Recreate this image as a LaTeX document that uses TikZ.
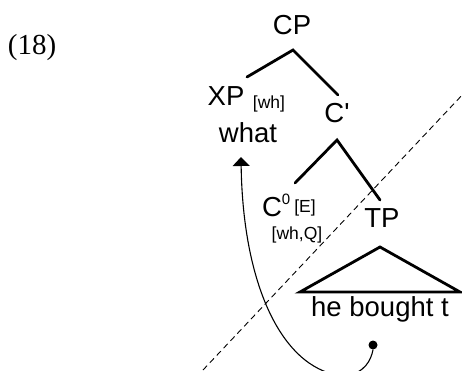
\documentclass[tikz,border=0pt]{standalone}
\usepackage{fontspec}
\setmainfont{Liberation Serif}
\newfontfamily\sansf{Liberation Sans}
\usetikzlibrary{arrows.meta}
\begin{document}
\begin{tikzpicture}[x=1pt,y=-1pt,
  lab/.style={font=\sansf\fontsize{27.5}{30}\selectfont, inner sep=0pt},
  feat/.style={font=\sansf\fontsize{17.5}{19}\selectfont, inner sep=0pt},
  supf/.style={font=\sansf\fontsize{15}{17}\selectfont, inner sep=0pt},
  branch/.style={line width=2.8pt, line cap=round},
  move/.style={line width=1.1pt, -{Triangle[width=17pt,length=9pt]}},
  cutline/.style={line width=0.9pt, dash pattern=on 6pt off 4pt},
]
\useasboundingbox (0,0) rectangle (462,370);
% example number
\node[font=\fontsize{29}{32}\selectfont, inner sep=0pt] (ex) at (32,48) {(18)};
% tree labels
\node[lab] (CP) at (292,25) {CP};
\node[lab] (XP) at (226,96) {XP};
\node[feat] (XPf) at (269,104) {[wh]};
\node[lab] (what) at (248,133) {what};
\node[lab] (Cbar) at (337,113) {C'};
\node[lab] (C0) at (272,207) {C};
\node[supf] (C0s) at (286,199) {0};
\node[feat] (C0f) at (305,208) {[E]};
\node[feat] (C0g) at (297,235) {[wh,Q]};
\node[lab] (TP) at (382,218) {TP};
\node[lab] (yield) at (380,309) {he bought t};
% branch end points
\coordinate (cpb) at (293,50);
\coordinate (xpt) at (247,77);
\coordinate (cbt) at (338,95);
\coordinate (cbb) at (337,140);
\coordinate (c0t) at (295,183);
\coordinate (tpt) at (380,200);
\draw[branch] (xpt) -- (cpb) -- (cbt);
\draw[branch] (c0t) -- (cbb) -- (tpt);
% triangle
\coordinate (tapex) at (380,247);
\coordinate (tl) at (300,292);
\coordinate (tr) at (460,292);
\draw[line width=2.8pt, line join=miter] (tl) -- (tapex) -- (tr) -- cycle;
% dashed cut line
\coordinate (d1) at (203,370);
\coordinate (d2) at (465,92);
\draw[cutline] (d1) -- (d2);
% movement arrow
\node[circle, fill, inner sep=0pt, minimum size=9pt] (dot) at (373,345) {};
\coordinate (arrtip) at (241,157);
\draw[move] (dot.south) .. controls (371,360) and (365,373) .. (345,376)
  .. controls (285,372) and (243,290) .. (arrtip);
\end{tikzpicture}
\end{document}
